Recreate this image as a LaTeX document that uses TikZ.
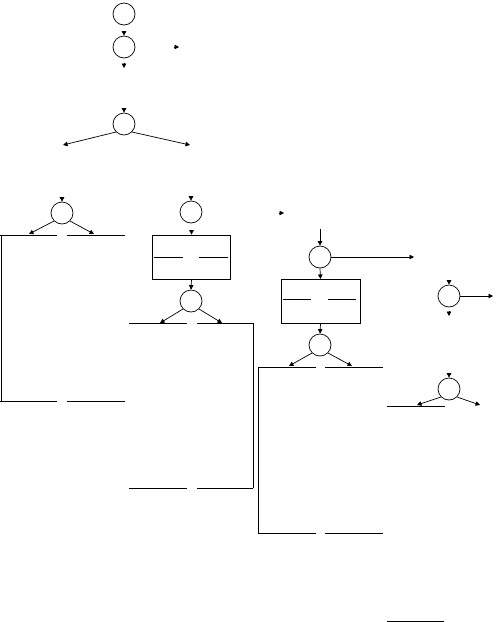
\documentclass[tikz,border=0pt]{standalone}
\usetikzlibrary{arrows.meta,calc}
\begin{document}
\begin{tikzpicture}[x=1pt,y=-1pt,line width=0.7pt,
  circ/.style={circle,draw,minimum size=22pt,inner sep=0pt},
  box/.style={draw,minimum width=79pt,minimum height=44pt,inner sep=0pt},
  arr/.style={-{Triangle[length=4.5pt,width=4.5pt]}},
  frame/.style={line width=0.8pt}]
\useasboundingbox (0,0) rectangle (496,622);
% nodes
\node[circ] (c1) at (124,14) {};
\node[circ] (c2) at (124,47) {};
\node[circ] (c3) at (124,124) {};
\node[circ] (c4) at (62,213) {};
\node[circ] (c5) at (191,212) {};
\node[box,minimum width=78.4pt] (r1) at (191.5,257) {};
\node[circ] (c6) at (191,301) {};
\node[circ] (c7) at (320,257) {};
\node[box] (r2) at (320.5,301.3) {};
\node[circ] (c8) at (320,345) {};
\node[circ] (c9) at (449,296) {};
\node[circ] (c10) at (449,389) {};
% free coordinates
\coordinate (t1) at (179,47);
\coordinate (t2) at (124,68);
\coordinate (t3) at (284,213);
\coordinate (t4) at (449,316);
\coordinate (a1) at (63,145);
\coordinate (a2) at (190,145);
\coordinate (a3) at (29,234);
\coordinate (a4) at (94,234);
\coordinate (a5) at (160,323);
\coordinate (a6) at (222,323);
\coordinate (s7) at (320,229);
\coordinate (a7) at (414,257);
\coordinate (a8) at (289,366);
\coordinate (a9) at (352,366);
\coordinate (a10) at (493,296);
\coordinate (a11) at (417,405);
\coordinate (a12) at (480,405);
% tip-only arrows
\draw[arr] ($(c2.north)+(0,-4.6)$) -- (c2.north);
\draw[arr] ($(t1)+(-4.6,0)$) -- (t1);
\draw[arr] ($(t2)+(0,-4.6)$) -- (t2);
\draw[arr] ($(c3.north)+(0,-4.6)$) -- (c3.north);
\draw[arr] ($(c4.north)+(0,-4.6)$) -- (c4.north);
\draw[arr] ($(c5.north)+(0,-4.6)$) -- (c5.north);
\draw[arr] ($(r1.north)+(0,-4.6)$) -- (r1.north);
\draw[arr] ($(t3)+(-4.6,0)$) -- (t3);
\draw[arr] ($(c9.north)+(0,-4.6)$) -- (c9.north);
\draw[arr] ($(t4)+(0,-4.6)$) -- (t4);
\draw[arr] ($(c10.north)+(0,-4.6)$) -- (c10.north);
% full arrows
\draw[arr] (c3.south west) -- (a1);
\draw[arr] (c3.south east) -- (a2);
\draw[arr] (c4.south west) -- (a3);
\draw[arr] (c4.south east) -- (a4);
\draw[arr] (r1.south) -- (c6.north);
\draw[arr] (c6.south west) -- (a5);
\draw[arr] (c6.south east) -- (a6);
\draw[arr] (s7) -- (c7.north);
\draw[arr] (c7.east) -- (a7);
\draw[arr] (c7.south) -- (r2.north);
\draw[arr] (r2.south) -- (c8.north);
\draw[arr] (c8.south west) -- (a8);
\draw[arr] (c8.south east) -- (a9);
\draw[arr] (c9.east) -- (a10);
\draw[arr] (c10.south west) -- (a11);
\draw[arr] (c10.south east) -- (a12);
% inner lines of boxes
\draw ($(r1.west)+(2,0)$) -- ++(29,0);
\draw ($(r1.east)+(-3,0)$) -- ++(-29,0);
\draw ($(r2.west)+(2.5,-2)$) -- ++(27.5,0);
\draw ($(r2.east)+(-4,-2)$) -- ++(-28,0);
% frames
\draw[frame] (0,235) -- (57,235) (67,235) -- (125,235);
\draw[frame] (1,235) -- (1,401);
\draw[frame] (0,401) -- (57,401) (67,401) -- (125,401);
\draw[frame] (129,323) -- (187,323) (197,323) -- (253,323);
\draw[frame] (253,323) -- (253,488);
\draw[frame] (129,488) -- (187,488) (197,488) -- (253,488);
\draw[frame] (258,367) -- (316,367) (325,367) -- (383,367);
\draw[frame] (258,367) -- (258,533);
\draw[frame] (258,533) -- (316,533) (325,533) -- (383,533);
\draw[frame] (387,406) -- (445,406);
\draw[frame] (387,621) -- (444,621);
\end{tikzpicture}
\end{document}
